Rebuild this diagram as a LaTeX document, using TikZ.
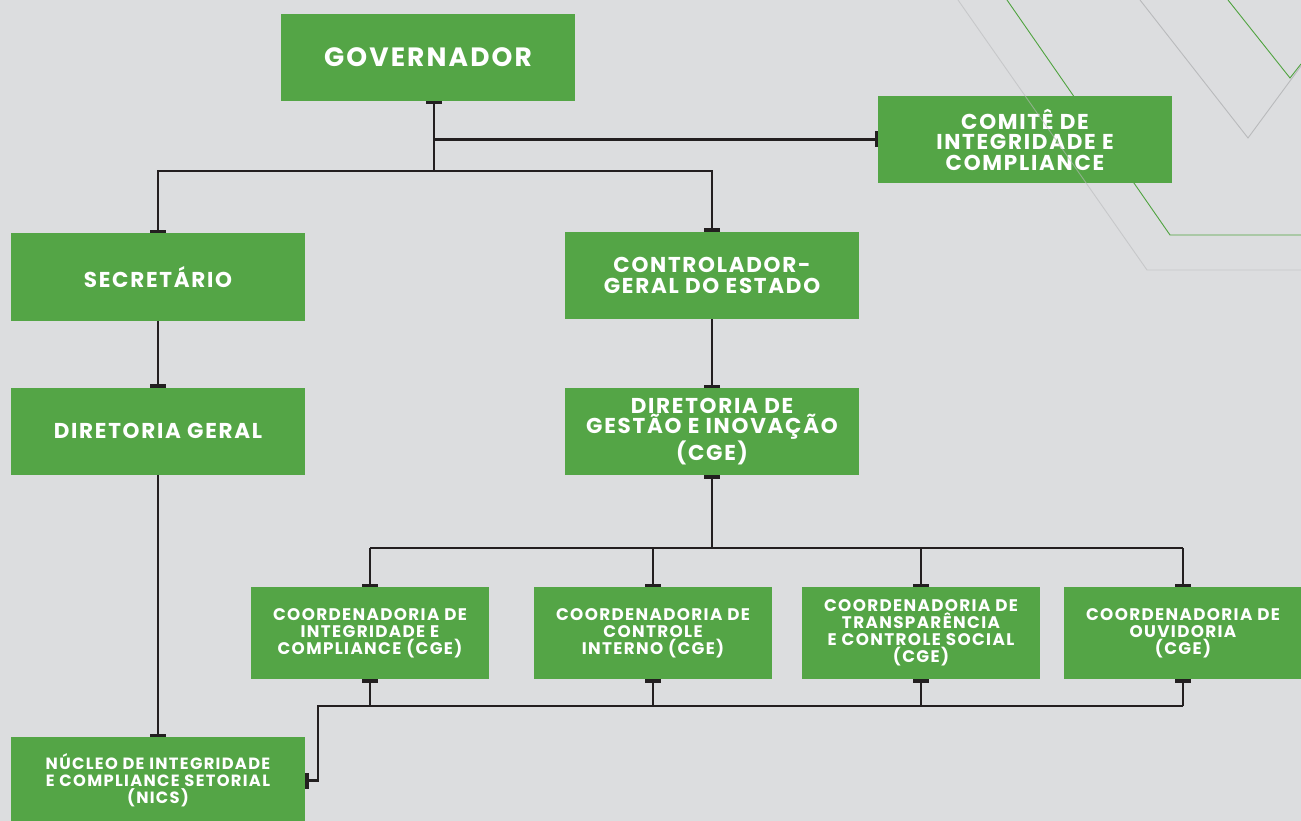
\documentclass[tikz,border=0pt]{standalone}
\usepackage{fontspec}
\setmainfont{Poppins}[LetterSpace=8]
\usetikzlibrary{arrows.meta}

\definecolor{bg}{HTML}{DCDDDF}
\definecolor{boxgreen}{HTML}{54A546}
\definecolor{ink}{HTML}{231F20}
\definecolor{decogreen}{HTML}{4FA33F}
\definecolor{decogray}{HTML}{B9BABC}

\tikzset{
  box/.style={fill=boxgreen, text=white, minimum width=294pt, minimum height=87pt,
    inner sep=0pt, outer sep=0pt, align=center, font=\bfseries\fontsize{21.5}{20.5}\selectfont},
  small box/.style={box, minimum width=238pt, minimum height=92pt,
    font=\bfseries\fontsize{16.8}{17}\selectfont},
  ln/.style={draw=ink, line width=2.6pt},
  bar/.tip={Bar[width=16pt, line width=3.5pt]}
}

\begin{document}
\begin{tikzpicture}[x=1pt, y=-1pt, >=bar]
\useasboundingbox (0,0) rectangle (1301,821);
\fill[bg] (0,0) rectangle (1301,821);

% decoration top right
\draw[decogreen, line width=0.9pt] (1007,0) -- (1170,235) -- (1301,235);
\draw[decogreen, line width=0.9pt] (1228,0) -- (1290,78) -- (1301,64);
\draw[decogray, line width=0.9pt] (1140,0) -- (1248,138) -- (1301,66);

% boxes
\node[box, font=\bfseries\fontsize{26.5}{27}\selectfont] (gov) at (428,57.5) {GOVERNADOR};
\node[box] (comite) at (1025,139.5) {COMITÊ DE\\INTEGRIDADE E\\COMPLIANCE};
\node[box] (sec) at (158,277) {SECRETÁRIO};
\node[box] (ctrl) at (712,275.5) {CONTROLADOR-\\GERAL DO ESTADO};
\node[box] (dg) at (158,431) {DIRETORIA GERAL};
\node[box] (dgi) at (712,431.5) {DIRETORIA DE\\GESTÃO E INOVAÇÃO\\(CGE)};
\node[small box] (c1) at (370,633) {COORDENADORIA DE\\INTEGRIDADE E\\COMPLIANCE (CGE)};
\node[small box] (c2) at (653,633) {COORDENADORIA DE\\CONTROLE\\INTERNO (CGE)};
\node[small box] (c3) at (921,633) {COORDENADORIA DE\\TRANSPARÊNCIA\\E CONTROLE SOCIAL\\(CGE)};
\node[small box] (c4) at (1183,633) {COORDENADORIA DE\\OUVIDORIA\\(CGE)};
\node[box, minimum height=87pt, font=\bfseries\fontsize{16.3}{17}\selectfont] (nics) at (158,780.5) {NÚCLEO DE INTEGRIDADE\\E COMPLIANCE SETORIAL\\(NICS)};

\draw[decogray, line width=0.9pt, opacity=0.6] (958,0) -- (1147,270) -- (1301,270);

% connectors
\coordinate (trunk) at (434,171);
\coordinate (hub) at (712,548);
\coordinate (elbow) at (318,706);

\draw[ln, {Bar[width=16pt, line width=3.5pt]}-] (gov.south -| trunk) -- (trunk);
\draw[ln, ->] (trunk |- comite.west) -- (comite.west);
\draw[ln, ->] (trunk) -| (sec.north);
\draw[ln, ->] (trunk) -| (ctrl.north);
\draw[ln, ->] (sec) -- (dg);
\draw[ln, ->] (dg) -- (nics);
\draw[ln, ->] (ctrl) -- (dgi);
\draw[ln, {Bar[width=16pt, line width=3.5pt]}-] (dgi.south) -- (hub);
\draw[ln] (c1.north |- hub) -- (c4.north |- hub);
\foreach \n in {c1,c2,c3,c4}
  \draw[ln, ->] (\n.north |- hub) -- (\n.north);
\foreach \n in {c1,c2,c3,c4}
  \draw[ln, {Bar[width=16pt, line width=3.5pt]}-] (\n.south) -- (\n.south |- elbow);
\draw[ln, ->] (c4.south |- elbow) -- (elbow) |- (nics.east);
\end{tikzpicture}
\end{document}
